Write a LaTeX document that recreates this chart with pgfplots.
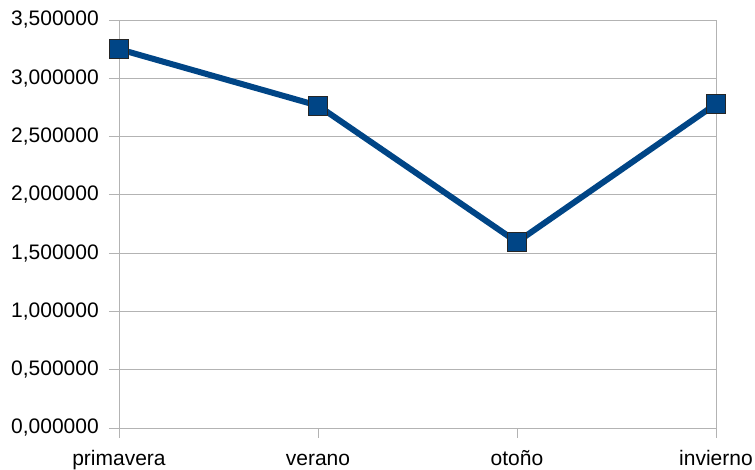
\documentclass[border=0pt]{standalone}
\usepackage{pgfplots}
\pgfplotsset{compat=1.18}
\usepackage{fontspec}
\setmainfont{Liberation Sans}
\definecolor{serie}{HTML}{004586}
\definecolor{gridc}{HTML}{B3B3B3}
\begin{document}
\begin{tikzpicture}
\path[use as bounding box] (-119pt,-42pt) rectangle (636pt,428pt);
\clip (-119pt,-42pt) rectangle (636pt,428pt);
\begin{axis}[
  at={(0pt,0pt)}, anchor=south west,
  scale only axis,
  width=597pt, height=408pt,
  xmin=0, xmax=3, ymin=0, ymax=3.5,
  xtick={0,1,2,3},
  xticklabels={primavera,verano,otoño,invierno},
  ytick={0,0.5,1,1.5,2,2.5,3,3.5},
  ymajorgrids,
  grid style={gridc, line width=0.8pt},
  axis line style={gridc, line width=0.8pt},
  tick style={gridc, line width=0.8pt},
  tick align=outside,
  major tick length=10pt,
  xtick pos=bottom, ytick pos=left,
  clip=false,
  /pgf/number format/assume math mode=true,
  /pgf/number format/.cd, fixed, fixed zerofill, precision=6, use comma, 1000 sep={},
  /pgfplots/.cd,
  tick label style={font=\fontsize{21}{24}\selectfont, text=black},
  yticklabel style={anchor=east, inner sep=0pt, xshift=-10pt},
  xticklabel style={anchor=base, inner sep=0pt, yshift=-28pt},
]
\addplot[serie, line width=6pt, mark=square*, mark size=9.5pt,
  mark options={fill=serie, draw=black!85, line width=1pt, solid}]
  coordinates {(0,3.25) (1,2.765) (2,1.595) (3,2.78)};
\end{axis}
\end{tikzpicture}
\end{document}
